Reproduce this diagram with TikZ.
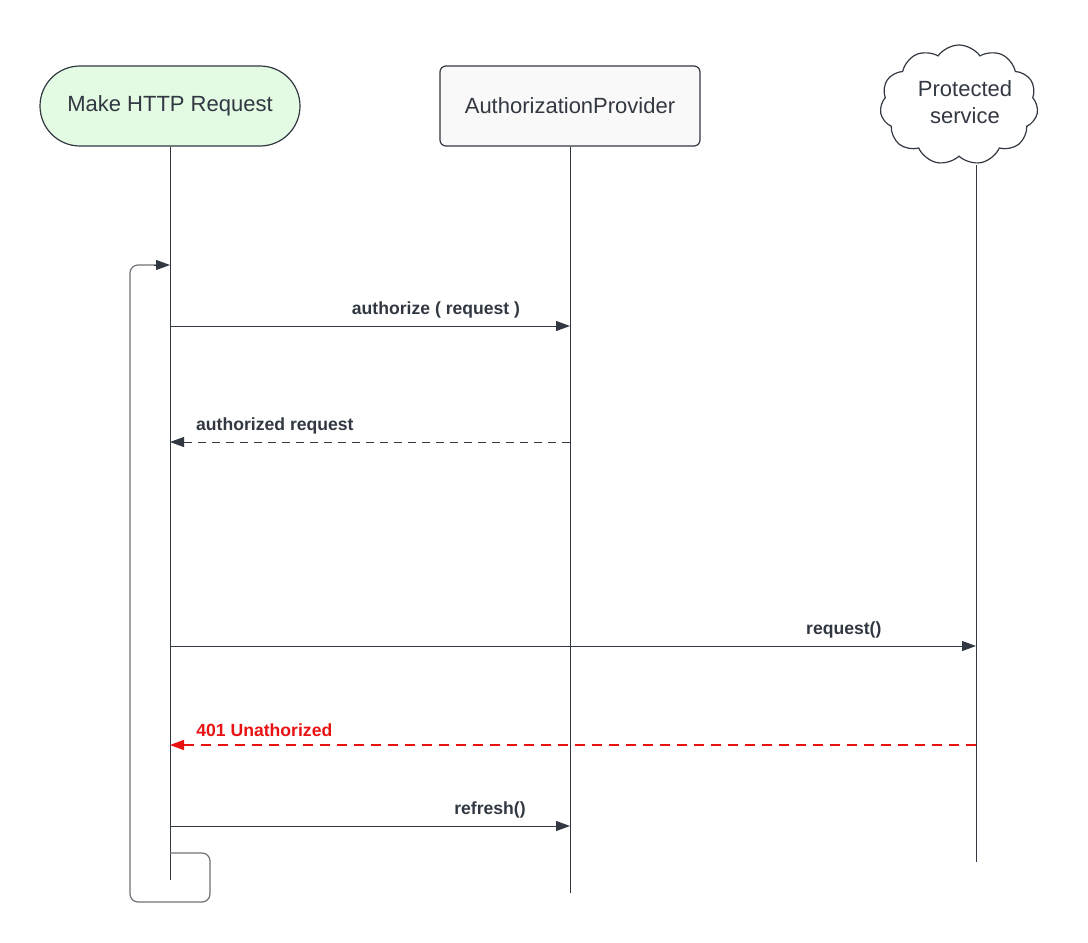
\documentclass[tikz,border=0pt]{standalone}
\usepackage{fontspec}
\setmainfont{Liberation Sans}
\usepackage{tikz}
\usetikzlibrary{
  arrows.meta,
  positioning,
  shapes.symbols,
  calc
}
\definecolor{ink}{RGB}{50,56,66}
\definecolor{mint}{RGB}{227,250,227}
\definecolor{paper}{RGB}{249,249,249}
\definecolor{alarm}{RGB}{232,18,18}
\definecolor{loopgray}{RGB}{110,114,120}

\tikzset{
  actor/.style={draw=ink, line width=0.6pt, text=ink,
    font=\fontsize{11}{13.5}\selectfont, align=center},
  lifeline/.style={draw=ink, line width=0.5pt},
  msg/.style={draw=ink, line width=0.5pt,
    -{Triangle[length=7pt,width=5pt]}},
  reply/.style={msg, dash pattern=on 4pt off 3pt},
  msglabel/.style={font=\bfseries\fontsize{8.8}{10}\selectfont, text=ink},
}

\begin{document}
\begin{tikzpicture}[x=0.5pt,y=-0.5pt]
  \useasboundingbox (0,0) rectangle (1088,943);

  % participants
  \node[actor, fill=mint, rounded corners=20pt,
        minimum width=130pt, minimum height=40pt] (client) at (170,106)
    {Make HTTP Request};
  \node[actor, fill=paper, rounded corners=3pt,
        minimum width=130pt, minimum height=40pt] (provider) at (570,106)
    {AuthorizationProvider};
  \node[actor, cloud, cloud puffs=11, cloud puff arc=110, aspect=1.3,
        minimum width=79pt, minimum height=60pt, inner sep=0pt]
    (service) at (959,105) {};
  \node[text=ink, font=\fontsize{11}{13.5}\selectfont, align=center]
    (servicetext) at (965,102) {Protected\\service};

  % lifelines
  \coordinate (clientend) at (170,880);
  \coordinate (providerend) at (570,893);
  \coordinate (serviceend) at (976,862);
  \draw[lifeline] (client.south) -- (clientend);
  \draw[lifeline] (provider.south) -- (providerend);
  \draw[lifeline] (976,165) -- (serviceend);

  % retry loop
  \coordinate (loopin) at (170,265);
  \coordinate (loopout) at (170,853);
  \draw[loopgray, line width=0.6pt, rounded corners=4pt]
    (loopout) -- (210,853) -- (210,902) -- (130,902) -- (130,265)
    -- ([xshift=-7pt]loopin);
  \draw[msg] ([xshift=-8pt]loopin) -- (loopin);

  % messages
  \draw[msg] (client.south |- 0,326) -- (provider.south |- 0,326)
    node[msglabel, pos=0.665, above=0.5pt] {authorize ( request )};
  \draw[reply] (provider.south |- 0,442) -- (client.south |- 0,442)
    node[msglabel, pos=1, above right=0.5pt and 9.5pt] {authorized request};
  \draw[msg] (client.south |- 0,646) -- (serviceend |- 0,646)
    node[msglabel, pos=0.836, above=0.5pt] {request()};
  \draw[reply, color=alarm, line width=0.7pt, dash pattern=on 5pt off 3.5pt]
    (serviceend |- 0,745) -- (client.south |- 0,745)
    node[msglabel, text=alarm, pos=1, above right=0.5pt and 9.5pt]
    {401 Unathorized};
  \draw[msg] (client.south |- 0,826) -- (provider.south |- 0,826)
    node[msglabel, pos=0.8, above=0.5pt] {refresh()};

\end{tikzpicture}
\end{document}
